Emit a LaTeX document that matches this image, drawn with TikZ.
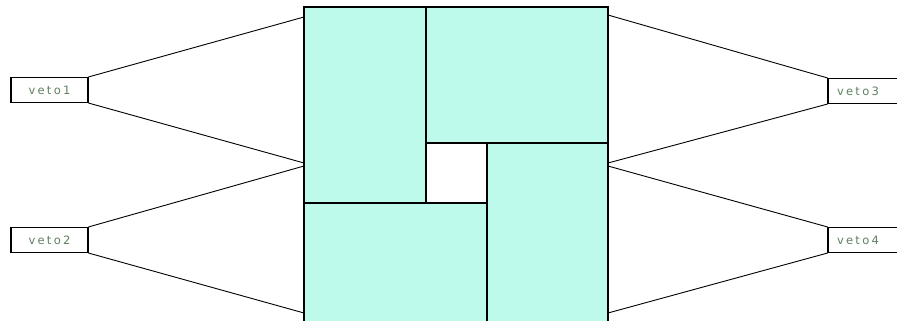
\documentclass[tikz,border=0pt]{standalone}
\usepackage{fontspec}
\newfontfamily\vetofont[LetterSpace=20]{DejaVu Sans}
\definecolor{panelc}{RGB}{190,250,235}
\definecolor{vtext}{RGB}{95,130,95}
\begin{document}
\begin{tikzpicture}[x=1pt,y=-1pt,line width=1.1pt,
  vetobox/.style={draw=black,fill=white,minimum width=77pt,minimum height=25pt,inner sep=0pt,
    font=\vetofont\fontsize{11.5}{13}\selectfont,text=vtext},
  panel/.style={fill=panelc,draw=black},
  wire/.style={draw=black,line width=0.9pt}]
\useasboundingbox (0,0) rectangle (897,321);
% central square pieces
\path[panel] (304,7) rectangle (426,203);
\path[panel] (426,7) rectangle (608,143);
\path[panel] (487,143) rectangle (608,326);
\path[panel] (304,203) rectangle (487,326);
% attachment points on the square
\coordinate (l1) at (304,17);
\coordinate (l2) at (304,163);
\coordinate (l3) at (304,166);
\coordinate (l4) at (304,313);
\coordinate (r1) at (608,15);
\coordinate (r2) at (608,163);
\coordinate (r3) at (608,166);
\coordinate (r4) at (608,313);
% veto boxes
\node[vetobox] (v1) at (49.5,90) {veto1};
\node[vetobox] (v2) at (49.5,240) {veto2};
\node[vetobox,text width=59pt,align=left] (v3) at (866.5,91) {veto3};
\node[vetobox,text width=59pt,align=left] (v4) at (866.5,240) {veto4};
% connectors
\draw[wire] (v1.north east) -- (l1);
\draw[wire] (v1.south east) -- (l2);
\draw[wire] (v2.north east) -- (l3);
\draw[wire] (v2.south east) -- (l4);
\draw[wire] (r1) -- (v3.north west);
\draw[wire] (r2) -- (v3.south west);
\draw[wire] (r3) -- (v4.north west);
\draw[wire] (r4) -- (v4.south west);
\end{tikzpicture}
\end{document}
